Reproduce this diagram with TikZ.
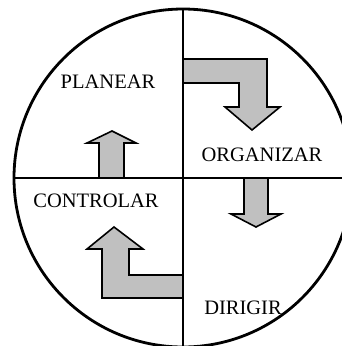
\documentclass[tikz,border=0pt]{standalone}
\usepackage{fontspec}
\setmainfont{Liberation Serif}
\begin{document}
\begin{tikzpicture}[x=1pt,y=-1pt,
  arrowshape/.style={fill={rgb,255:red,192;green,192;blue,192},draw=black,line width=1.6pt,line join=miter},
  lbl/.style={font=\fontsize{20.5}{22}\selectfont,inner sep=0pt,anchor=center}]
\useasboundingbox (0,0) rectangle (342,346);
\begin{scope}
\clip (0,0) rectangle (342,346);
\draw[line width=2.8pt] (183,178) circle[radius=169];
\draw[line width=1.1pt] (183,9) -- (183,347);
\draw[line width=1.1pt] (14,178) -- (352,178);
% top-right bent arrow
\draw[arrowshape] (183,59) -- (267,59) -- (267,107) -- (280,107) -- (252,130) -- (225,107) -- (239,107) -- (239,83) -- (183,83) -- cycle;
% small up arrow
\draw[arrowshape] (99,178) -- (99,143) -- (87,143) -- (112,131) -- (136,143) -- (124,143) -- (124,178) -- cycle;
% down arrow
\draw[arrowshape] (244,178) -- (244,214) -- (231,214) -- (256,227) -- (281,214) -- (268,214) -- (268,178) -- cycle;
% bottom-left bent arrow
\draw[arrowshape] (183,298) -- (102,298) -- (102,249) -- (87,249) -- (114,227) -- (143,249) -- (129,249) -- (129,275) -- (183,275) -- cycle;
\end{scope}
\node[lbl] (planear) at (108,82) {PLANEAR};
\node[lbl] (organizar) at (262,155) {ORGANIZAR};
\node[lbl] (controlar) at (96,201) {CONTROLAR};
\node[lbl] (dirigir) at (243,308) {DIRIGIR};
\end{tikzpicture}
\end{document}
